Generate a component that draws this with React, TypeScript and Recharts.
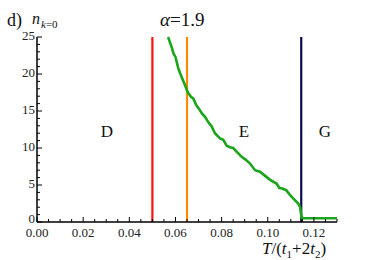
import { LineChart, Line, XAxis, YAxis, ReferenceLine } from 'recharts';

// n_{k=0} vs T/(t1+2t2), alpha = 1.9
const tempValues = [
  0.0568, 0.0585, 0.0591, 0.06, 0.0612, 0.062, 0.0632, 0.0641, 0.065, 0.0656,
  0.0668, 0.0677, 0.069, 0.0706, 0.0716, 0.0728, 0.0742, 0.0757, 0.0771, 0.0793,
  0.0807, 0.0822, 0.0836, 0.085, 0.0868, 0.0887, 0.0905, 0.0923, 0.0945, 0.0966,
  0.099, 0.101, 0.1038, 0.105, 0.106, 0.108, 0.1095, 0.111, 0.1132, 0.114,
  0.1147, 0.12, 0.13,
];
const nValues = [
  25, 23.5, 22.8, 22.3, 20.8, 20.1, 19.2, 18.5, 17.8, 17.4,
  16.9, 16.7, 15.8, 15.1, 14.6, 14.2, 13.5, 12.9, 12.0, 11.3,
  11.1, 10.3, 10.1, 10.0, 9.4, 8.8, 8.4, 7.9, 7.0, 6.8,
  6.2, 5.7, 5.2, 4.6, 4.55, 4.3, 3.7, 3.2, 2.5, 2.0,
  0.5, 0.5, 0.5,
];

// phase boundaries
const boundaryD = 0.05;
const boundaryE = 0.065;
const boundaryG = 0.1145;

const xTicks = Array.from({ length: 27 }, (_, i) => +(i * 0.005).toFixed(3));
const xLabels = [0, 0.02, 0.04, 0.06, 0.08, 0.1, 0.12];
const yTicks = Array.from({ length: 26 }, (_, i) => i);
const yLabels = [0, 5, 10, 15, 20, 25];

const data = tempValues.map((t, i) => ({ t, n: nValues[i] }));

const serif = '"Liberation Serif", "Times New Roman", Times, serif';
const txt = { fontFamily: serif };

const XTick = (props: any) => {
  const { x, y, payload } = props;
  const major = xLabels.some((v) => Math.abs(v - payload.value) < 1e-6);
  return (
    <g>
      <line x1={x} x2={x} y1={y} y2={y - (major ? 5 : 3)} stroke="#000" strokeWidth={1} />
      {major && (
        <text x={x} y={y + 15} textAnchor="middle" style={txt} fontSize={13} fill="#222">
          {payload.value.toFixed(2)}
        </text>
      )}
    </g>
  );
};

const YTick = (props: any) => {
  const { x, y, payload } = props;
  const major = yLabels.includes(payload.value);
  return (
    <g>
      <line x1={x} x2={x + (major ? 5 : 3)} y1={y} y2={y} stroke="#000" strokeWidth={1} />
      {major && (
        <text x={x - 2} y={y + (payload.value === 0 ? 1 : 3)} textAnchor="end" style={txt} fontSize={13} fill="#222">
          {payload.value}
        </text>
      )}
    </g>
  );
};

export default function App() {
  return (
    <div style={{ position: 'absolute', left: 0, top: 0, width: 374, height: 260, background: '#fff' }}>
      <LineChart width={374} height={260} data={data} margin={{ top: 37, right: 37, bottom: 8, left: 7 }}>
        <XAxis
          dataKey="t"
          type="number"
          domain={[0, 0.13]}
          ticks={xTicks}
          interval={0}
          tick={<XTick />}
          tickLine={false}
          tickSize={0}
          tickMargin={0}
          height={30}
          axisLine={{ stroke: '#000', strokeWidth: 1.5 }}
        />
        <YAxis
          type="number"
          domain={[0, 25]}
          ticks={yTicks}
          interval={0}
          tick={<YTick />}
          tickLine={false}
          tickSize={0}
          tickMargin={0}
          width={30}
          axisLine={{ stroke: '#000', strokeWidth: 1.5 }}
        />
        <ReferenceLine x={boundaryD} stroke="#ff1010" strokeWidth={2.2} />
        <ReferenceLine x={boundaryE} stroke="#ff8a00" strokeWidth={2.2} />
        <ReferenceLine x={boundaryG} stroke="#0a0a50" strokeWidth={2.2} />
        <Line
          dataKey="n"
          type="linear"
          stroke="#1aa51a"
          strokeWidth={2.6}
          dot={false}
          isAnimationActive={false}
        />
      </LineChart>
      <svg width={374} height={260} style={{ position: 'absolute', left: 0, top: 0, pointerEvents: 'none' }}>
        <text x={7} y={26} style={txt} fontSize={18} fill="#111">d)</text>
        <text x={32} y={24} style={txt} fontSize={16} fontStyle="italic" fill="#111">n</text>
        <text x={41} y={28} style={txt} fontSize={11} fill="#111">
          <tspan fontStyle="italic">k</tspan>=0
        </text>
        <text x={160} y={26} style={txt} fontSize={19} fill="#111">
          <tspan fontStyle="italic">α</tspan>=1.9
        </text>
        <text x={107} y={137} textAnchor="middle" style={txt} fontSize={17} fill="#111">D</text>
        <text x={244} y={137} textAnchor="middle" style={txt} fontSize={17} fill="#111">E</text>
        <text x={325} y={137} textAnchor="middle" style={txt} fontSize={17} fill="#111">G</text>
        <text x={262} y={254} style={txt} fontSize={17} fill="#111">
          <tspan fontStyle="italic">T</tspan>/(<tspan fontStyle="italic">t</tspan>
          <tspan fontSize={11} dy={4}>1</tspan>
          <tspan dy={-4}>+2</tspan>
          <tspan fontStyle="italic">t</tspan>
          <tspan fontSize={11} dy={4}>2</tspan>
          <tspan dy={-4}>)</tspan>
        </text>
      </svg>
    </div>
  );
}
